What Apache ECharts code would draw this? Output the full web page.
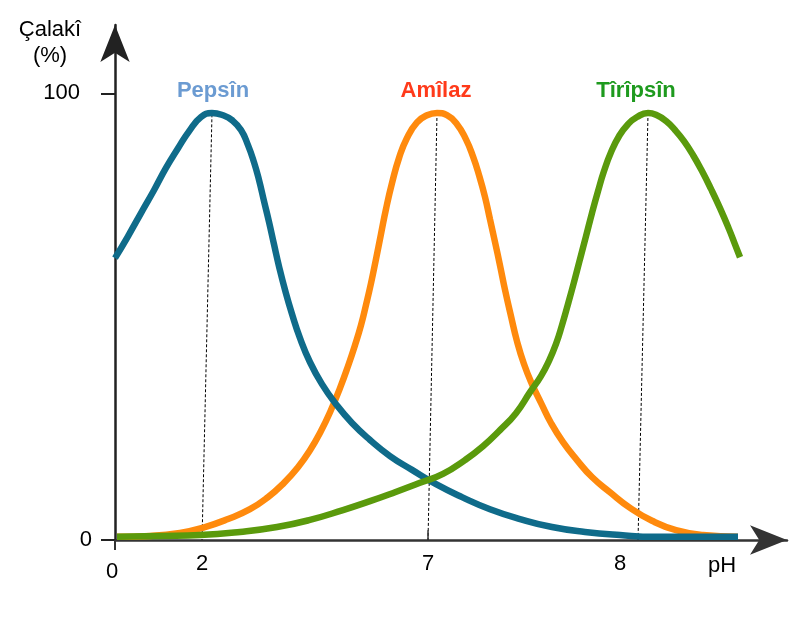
<!DOCTYPE html>
<html>
<head>
<meta charset="utf-8">
<script src="https://cdn.jsdelivr.net/npm/echarts@6/dist/echarts.min.js"></script>
<style>html,body{margin:0;padding:0;background:#fff}#c{width:804px;height:622px}</style>
</head>
<body>
<div id="c"></div>
<script>
// x is a schematic position along the pH axis (0..100), y is activity in %
var pepsin = [[0,63.1],[1.93,68.0],[3.87,73.2],[5.80,78.3],[7.59,83.3],[9.38,87.7],[11.01,91.5],[12.80,94.7],[14.43,95.6],[16.07,95.1],[17.41,94.0],[18.75,91.8],[19.79,88.4],[20.68,84.6],[21.43,80.6],[22.17,75.9],[22.92,71.2],[23.66,66.2],[24.40,61.3],[25.30,56.0],[26.34,50.6],[27.53,45.2],[29.02,39.8],[30.80,34.9],[32.89,30.4],[35.27,26.2],[37.95,22.4],[40.92,18.8],[44.20,15.7],[47.77,12.5],[51.64,9.6],[55.80,6.9],[60.27,4.7],[65.03,2.9],[69.94,1.8],[75.15,1.1],[80.36,0.7],[86.31,0.7],[92.71,0.7]];
var amilaz = [[0.30,0.7],[5.21,0.9],[9.67,1.6],[13.39,2.9],[16.82,4.7],[20.09,6.9],[22.77,9.6],[25.15,12.8],[27.23,16.3],[29.02,20.1],[30.65,24.4],[32.14,29.1],[33.48,34.0],[34.67,38.9],[35.71,43.6],[36.61,48.1],[37.35,52.6],[38.10,57.5],[38.84,62.9],[39.58,68.5],[40.33,74.1],[41.22,79.9],[42.26,85.5],[43.45,90.0],[44.94,93.5],[46.43,95.1],[47.92,95.6],[49.40,95.1],[50.89,93.1],[52.23,89.7],[53.27,85.9],[54.17,81.7],[55.06,76.8],[55.80,71.8],[56.55,66.7],[57.29,61.5],[58.04,56.0],[58.93,50.1],[59.82,44.5],[60.86,39.4],[62.05,34.9],[63.39,30.7],[64.88,26.2],[66.67,21.9],[68.75,17.9],[70.98,14.1],[73.66,10.7],[76.64,7.2],[79.91,4.3],[83.48,2.2],[87.50,1.1],[92.71,0.7]];
var tiripsin = [[0.30,0.7],[6.70,0.9],[12.65,1.1],[18.60,1.8],[24.11,2.9],[29.02,4.5],[33.93,6.7],[37.95,8.7],[41.67,10.7],[45.39,12.8],[48.81,14.8],[52.08,17.9],[54.76,21.0],[57.29,24.6],[59.67,28.4],[61.76,33.1],[63.39,36.7],[64.58,40.1],[65.63,43.9],[66.52,48.1],[67.41,52.8],[68.30,57.7],[69.20,62.9],[70.09,68.0],[70.98,73.2],[71.88,78.1],[72.77,82.6],[73.81,86.8],[75.00,90.4],[76.34,93.1],[77.68,94.7],[79.32,95.6],[80.65,95.1],[82.00,93.8],[83.33,91.8],[84.67,89.3],[86.01,86.2],[87.35,82.6],[88.69,78.6],[90.03,74.3],[91.37,69.6],[92.26,66.2],[93.01,63.3]];
var peakPepsin = [[14.43,95.3],[12.95,0]];
var peakAmilaz = [[47.92,95.6],[46.58,0]];
var peakTiripsin = [[79.32,95.6],[77.83,0]];
var tick7 = [[46.58,0],[46.58,2.2]];
var xTickValues = [0, 12.95, 46.58, 75.15];
var xTickLabels = ['0', '2', '7', '8'];
var yTickValues = [0, 100];
var yTickLabels = ['0', '100'];
var seriesNames = ['Pepsîn', 'Amîlaz', 'Tîrîpsîn'];

var FONT = "'Liberation Sans', Arial, sans-serif";
var chart = echarts.init(document.getElementById('c'), null, {renderer: 'canvas'});

function dotted(data) {
  return {type: 'line', data: data, symbol: 'none', silent: true, z: 1,
    lineStyle: {color: '#000', width: 1, type: [3, 2]}};
}
function curve(name, data, color, z) {
  return {name: name, type: 'line', data: data, symbol: 'none', smooth: 0.5, z: z,
    lineStyle: {color: color, width: 6.5}};
}

var option = {
  animation: false,
  backgroundColor: '#fff',
  grid: {left: 115, right: 17, top: 25, bottom: 82, containLabel: false},
  xAxis: {
    type: 'value', min: 0, max: 100,
    axisLine: {show: true, onZero: false, lineStyle: {color: '#333', width: 2.5},
      symbol: ['none', 'arrow'], symbolSize: [22, 37]},
    axisTick: {show: true, customValues: [0], length: 10, lineStyle: {color: '#333', width: 2}},
    axisLabel: {
      customValues: xTickValues, margin: 13, color: '#000', fontFamily: FONT, fontSize: 22,
      formatter: function (v) {
        var i = xTickValues.indexOf(v);
        var t = i >= 0 ? xTickLabels[i] : '';
        return v === 0 ? '{z|' + t + '}' : '{n|' + t + '}';
      },
      rich: {
        z: {fontFamily: FONT, fontSize: 22, color: '#000', padding: [8, 6, 0, 0]},
        n: {fontFamily: FONT, fontSize: 22, color: '#000'}
      }
    },
    splitLine: {show: false}
  },
  yAxis: {
    type: 'value', min: 0, max: 115.3,
    axisLine: {show: true, onZero: false, lineStyle: {color: '#222', width: 2.5},
      symbol: ['none', 'arrow'], symbolSize: [22, 37]},
    axisTick: {show: true, customValues: yTickValues, length: 14, lineStyle: {color: '#222', width: 2}},
    axisLabel: {
      customValues: yTickValues, margin: 23, color: '#000', fontFamily: FONT, fontSize: 22,
      formatter: function (v) {
        var i = yTickValues.indexOf(v);
        var t = i >= 0 ? yTickLabels[i] : '';
        return v === 100 ? '{a|' + t + '}' : '{b|' + t + '}';
      },
      rich: {
        a: {fontFamily: FONT, fontSize: 22, color: '#000', padding: [0, 12, 0, 0]},
        b: {fontFamily: FONT, fontSize: 22, color: '#000'}
      }
    },
    splitLine: {show: false}
  },
  series: [
    dotted(peakPepsin), dotted(peakAmilaz), dotted(peakTiripsin),
    {type: 'line', data: tick7, symbol: 'none', silent: true, z: 1, lineStyle: {color: '#333', width: 1.5}},
    curve(seriesNames[1], amilaz, '#ff8a0d', 2),
    curve(seriesNames[0], pepsin, '#0f6b8a', 3),
    curve(seriesNames[2], tiripsin, '#5a9a0c', 4)
  ],
  graphic: [
    {type: 'text', x: 50, y: 43, style: {text: 'Çalakî\n(%)',
      align: 'center', verticalAlign: 'middle', lineHeight: 26, font: '22px ' + FONT, fill: '#000'}},
    {type: 'text', x: 213, y: 91, style: {text: seriesNames[0], align: 'center', verticalAlign: 'middle',
      font: 'bold 22px ' + FONT, fill: '#6b9bd2'}},
    {type: 'text', x: 436, y: 91, style: {text: seriesNames[1], align: 'center', verticalAlign: 'middle',
      font: 'bold 22px ' + FONT, fill: '#ff3a1a'}},
    {type: 'text', x: 636, y: 91, style: {text: seriesNames[2], align: 'center', verticalAlign: 'middle',
      font: 'bold 22px ' + FONT, fill: '#1e9a1e'}},
    {type: 'text', x: 722, y: 566, style: {text: 'pH', align: 'center', verticalAlign: 'middle',
      font: '22px ' + FONT, fill: '#000'}}
  ]
};
chart.setOption(option);
</script>
</body>
</html>
